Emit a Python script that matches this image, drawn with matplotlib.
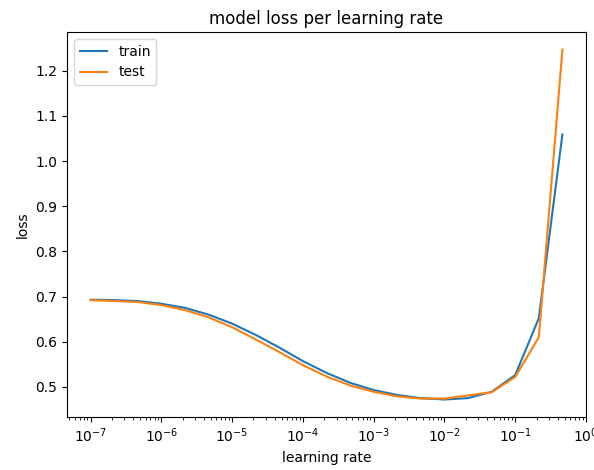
import numpy as np
import matplotlib
matplotlib.use("Agg")
import matplotlib.pyplot as plt

learning_rates = [10 ** (-7 + k / 3) for k in range(21)]
train_loss = [0.693, 0.692, 0.690, 0.684, 0.675, 0.660, 0.640, 0.615, 0.587, 0.557,
              0.531, 0.509, 0.493, 0.482, 0.475, 0.472, 0.475, 0.489, 0.526, 0.652, 1.059]
test_loss = [0.692, 0.690, 0.688, 0.681, 0.670, 0.654, 0.632, 0.605, 0.577, 0.548,
             0.523, 0.503, 0.489, 0.479, 0.474, 0.474, 0.481, 0.488, 0.522, 0.610, 1.247]

fig = plt.figure(figsize=(5.94, 4.70), dpi=100)
ax = fig.add_axes([67 / 594, 1 - 417 / 470, (586 - 67) / 594, (417 - 32) / 470])
ax.plot(learning_rates, train_loss, label="train")
ax.plot(learning_rates, test_loss, label="test")
ax.set_xscale("log")
ax.set_title("model loss per learning rate")
ax.set_xlabel("learning rate")
ax.set_ylabel("loss")
ax.legend(loc="upper left")
fig.savefig("out.png", dpi=100)
